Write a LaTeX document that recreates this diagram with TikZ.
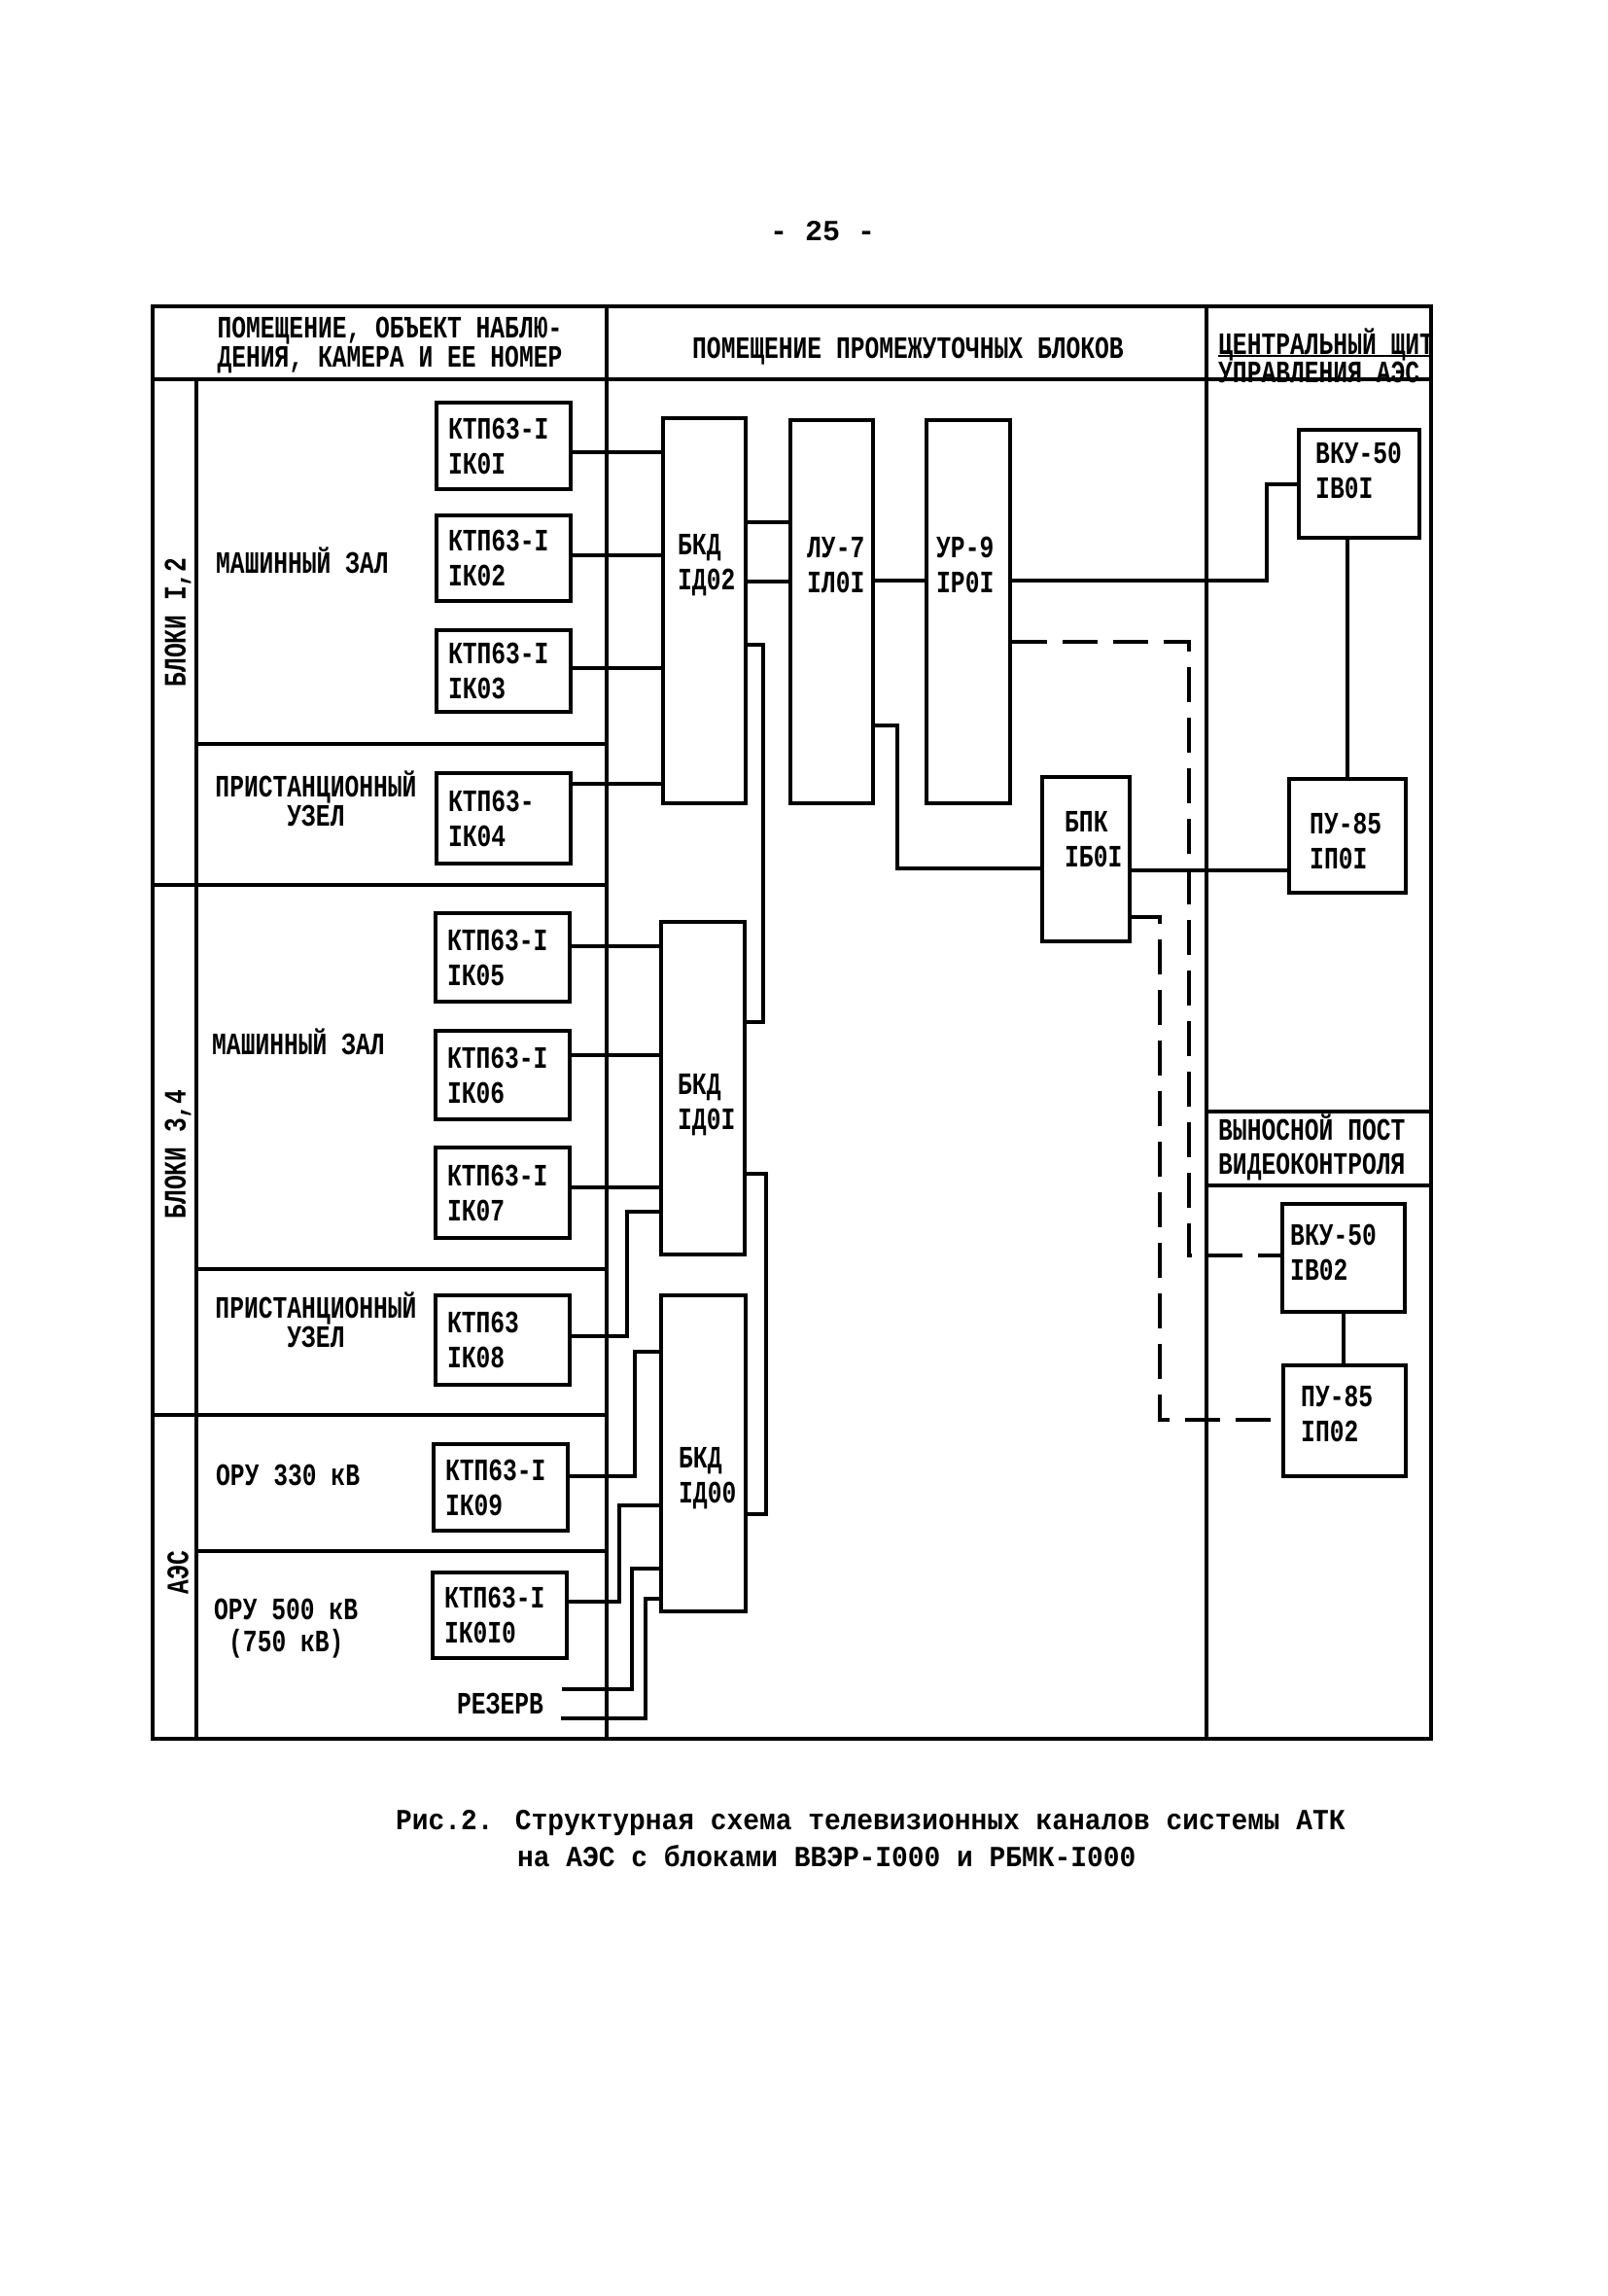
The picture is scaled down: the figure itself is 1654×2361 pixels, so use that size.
\documentclass[tikz,border=0pt]{standalone}
\usepackage{fontspec}
\newfontfamily\tw[FakeStretch=0.77]{Liberation Mono}
\newfontfamily\twc[FakeStretch=0.93]{Liberation Mono}
\newfontfamily\twp{Liberation Mono}
\newcommand\boxfont{\tw\bfseries\fontsize{32}{36}\selectfont}
\newcommand\hdrfont{\tw\bfseries\fontsize{32}{25}\selectfont}
\newcommand\sidefont{\tw\bfseries\fontsize{32}{30}\selectfont}
\newcommand\capfont{\twc\bfseries\fontsize{30}{34}\selectfont}
\begin{document}
\begin{tikzpicture}[x=1pt,y=-1pt,
  frame/.style={line width=4pt},
  wire/.style={line width=3.5pt},
  dwire/.style={line width=3.5pt, dash pattern=on 36pt off 16pt},
  ktp/.style={draw, line width=3.5pt, text width=114pt, inner xsep=12pt, inner ysep=0pt, align=left, font=\boxfont},
  blk/.style={draw, line width=3.5pt, inner sep=0pt},
  lbl/.style={inner sep=0pt, font=\boxfont, align=left},
  side/.style={inner sep=0pt, font=\sidefont, align=center},
  hdr/.style={inner sep=0pt, font=\hdrfont},
]
\path[use as bounding box, fill=white] (0,0) rectangle (1654,2361);

% page number
\node[inner sep=0pt, font=\twp\bfseries\fontsize{30}{30}\selectfont] (pnum) at (846,238) {- 25 -};

% frame and grid
\draw[frame] (157,315) rectangle (1472,1788);
\draw[frame] (157,390) -- (1472,390);
\draw[frame] (624,315) -- (624,1788);
\draw[frame] (1241,315) -- (1241,1788);
\draw[frame] (202,390) -- (202,1788);
\draw[frame] (202,765) -- (624,765);
\draw[frame] (157,910) -- (624,910);
\draw[frame] (202,1305) -- (624,1305);
\draw[frame] (157,1455) -- (624,1455);
\draw[frame] (202,1595) -- (624,1595);
\draw[frame] (1241,1143) -- (1472,1143);
\draw[frame] (1241,1219) -- (1472,1219);
\draw[line width=2.5pt] (1253,366) -- (1470,366);

% headers
\node[hdr, align=center] (h1) at (401,355) {ПОМЕЩЕНИЕ, ОБЪЕКТ НАБЛЮ-\\ДЕНИЯ, КАМЕРА И ЕЕ НОМЕР};
\node[hdr] (h2) at (934,361) {ПОМЕЩЕНИЕ ПРОМЕЖУТОЧНЫХ БЛОКОВ};
\node[hdr, align=left, anchor=west] (h3) at (1253,366) {ЦЕНТРАЛЬНЫЙ ЩИТ\\УПРАВЛЕНИЯ АЭС};
\node[lbl, anchor=west, font=\tw\bfseries\fontsize{32}{35}\selectfont] (h4) at (1253,1180) {ВЫНОСНОЙ ПОСТ\\ВИДЕОКОНТРОЛЯ};

% side labels
\node[lbl, rotate=90] (b12) at (183,640) {БЛОКИ I,2};
\node[lbl, rotate=90] (b34) at (183,1187) {БЛОКИ 3,4};
\node[lbl, rotate=90] (aes) at (183,1617) {АЭС};
\node[lbl, anchor=west] (mz1) at (222,576) {МАШИННЫЙ ЗАЛ};
\node[side] (pu1l) at (325,821) {ПРИСТАНЦИОННЫЙ\\УЗЕЛ};
\node[lbl, anchor=west] (mz2) at (218,1071) {МАШИННЫЙ ЗАЛ};
\node[side] (pu2l) at (325,1357) {ПРИСТАНЦИОННЫЙ\\УЗЕЛ};
\node[lbl, anchor=west] (oru3) at (222,1517) {ОРУ 330 кВ};
\node[lbl, anchor=west] (oru5) at (220,1655) {ОРУ 500 кВ};
\node[lbl, anchor=west] (oru7) at (235,1690) {(750 кВ)};
\node[lbl, anchor=west] (rez) at (470,1752) {РЕЗЕРВ};

% camera boxes
\node[ktp, minimum height=89pt] (K01) at (518,458.5) {КТП63-I\\IК0I};
\node[ktp, minimum height=88pt] (K02) at (518,574) {КТП63-I\\IК02};
\node[ktp, minimum height=84pt] (K03) at (518,690) {КТП63-I\\IК03};
\node[ktp, minimum height=93pt] (K04) at (518,841.5) {КТП63-\\IК04};
\node[ktp, minimum height=91pt] (K05) at (517,984.5) {КТП63-I\\IК05};
\node[ktp, minimum height=91pt] (K06) at (517,1105.5) {КТП63-I\\IК06};
\node[ktp, minimum height=93pt] (K07) at (517,1226.5) {КТП63-I\\IК07};
\node[ktp, minimum height=92pt] (K08) at (517,1378) {КТП63\\IК08};
\node[ktp, minimum height=89pt] (K09) at (515,1529.5) {КТП63-I\\IК09};
\node[ktp, minimum height=88pt] (K10) at (514,1661) {КТП63-I\\IК0I0};

% blocks
\node[blk, minimum width=85pt, minimum height=396pt] (BKD2) at (724.5,628) {};
\node[blk, minimum width=85pt, minimum height=394pt] (LU7) at (855.5,629) {};
\node[blk, minimum width=86pt, minimum height=394pt] (UR9) at (996,629) {};
\node[blk, minimum width=90pt, minimum height=169pt] (BPK) at (1117,883.5) {};
\node[blk, minimum width=86pt, minimum height=342pt] (BKD1) at (723,1119) {};
\node[blk, minimum width=87pt, minimum height=325pt] (BKD0) at (723.5,1494.5) {};
\node[blk, minimum width=124pt, minimum height=111pt] (VKU1) at (1398,497.5) {};
\node[blk, minimum width=120pt, minimum height=117pt] (PU1) at (1386,859.5) {};
\node[blk, minimum width=126pt, minimum height=111pt] (VKU2) at (1382,1293.5) {};
\node[blk, minimum width=126pt, minimum height=114pt] (PU2) at (1383,1461) {};

% block texts
\node[lbl, anchor=west] (tBKD2) at (697,581) {БКД\\IД02};
\node[lbl, anchor=west] (tLU7) at (830,581) {ЛУ-7\\IЛ0I};
\node[lbl, anchor=west] (tUR9) at (963,581) {УР-9\\IР0I};
\node[lbl, anchor=west] (tBPK) at (1095,863) {БПК\\IБ0I};
\node[lbl, anchor=west] (tBKD1) at (697,1136) {БКД\\IД0I};
\node[lbl, anchor=west] (tBKD0) at (698,1520) {БКД\\IД00};
\node[lbl, anchor=west] (tVKU1) at (1353,484) {ВКУ-50\\IВ0I};
\node[lbl, anchor=west] (tPU1) at (1347,865) {ПУ-85\\IП0I};
\node[lbl, anchor=west] (tVKU2) at (1327,1288) {ВКУ-50\\IВ02};
\node[lbl, anchor=west] (tPU2) at (1338,1454) {ПУ-85\\IП02};

% reserve line ends
\coordinate (R1) at (578,1737);
\coordinate (R2) at (577,1767);

% connectors, upper group
\draw[wire] (K01.east |- 0,465) -- (BKD2.west |- 0,465);
\draw[wire] (K02.east |- 0,571) -- (BKD2.west |- 0,571);
\draw[wire] (K03.east |- 0,687) -- (BKD2.west |- 0,687);
\draw[wire] (K04.east |- 0,806) -- (BKD2.west |- 0,806);
\draw[wire] (BKD2.east |- 0,537) -- (LU7.west |- 0,537);
\draw[wire] (BKD2.east |- 0,598) -- (LU7.west |- 0,598);
\draw[wire] (LU7.east |- 0,597) -- (UR9.west |- 0,597);
\draw[wire] (UR9.east |- 0,597) -| (1303,498) -- (VKU1.west |- 0,498);
\draw[wire] (VKU1.south -| PU1.north) -- (PU1.north);
\draw[dwire] (UR9.east |- 0,660) -| (1223,1291) -- (VKU2.west |- 0,1291);
\draw[wire] (LU7.east |- 0,746) -| (923,893) -- (BPK.west |- 0,893);
\draw[wire] (BPK.east |- 0,895) -- (PU1.west |- 0,895);
\draw[dwire] (BPK.east |- 0,943) -| (1193,1460) -- (PU2.west |- 0,1460);
\draw[wire] (VKU2.south) -- (VKU2.south |- PU2.north);
\draw[wire] (BKD2.east |- 0,663) -| (785,1051) -- (BKD1.east |- 0,1051);

% middle group
\draw[wire] (K05.east |- 0,973) -- (BKD1.west |- 0,973);
\draw[wire] (K06.east |- 0,1085) -- (BKD1.west |- 0,1085);
\draw[wire] (K07.east |- 0,1221) -- (BKD1.west |- 0,1221);
\draw[wire] (K08.east |- 0,1374) -| (645,1246) -- (BKD1.west |- 0,1246);
\draw[wire] (BKD1.east |- 0,1207) -| (788,1557) -- (BKD0.east |- 0,1557);

% lower group
\draw[wire] (K09.east |- 0,1518) -| (653,1390) -- (BKD0.west |- 0,1390);
\draw[wire] (K10.east |- 0,1647) -| (637,1548) -- (BKD0.west |- 0,1548);
\draw[wire] (R1) -| (650,1613) -- (BKD0.west |- 0,1613);
\draw[wire] (R2) -| (664,1644) -- (BKD0.west |- 0,1644);

% caption
\node[inner sep=0pt, anchor=west, font=\capfont] (cap1) at (407,1875) {Рис.2. Структурная схема телевизионных каналов системы АТК};
\node[inner sep=0pt, anchor=west, font=\capfont] (cap2) at (532,1909) {на АЭС с блоками ВВЭР-I000 и РБМК-I000};
\end{tikzpicture}
\end{document}
